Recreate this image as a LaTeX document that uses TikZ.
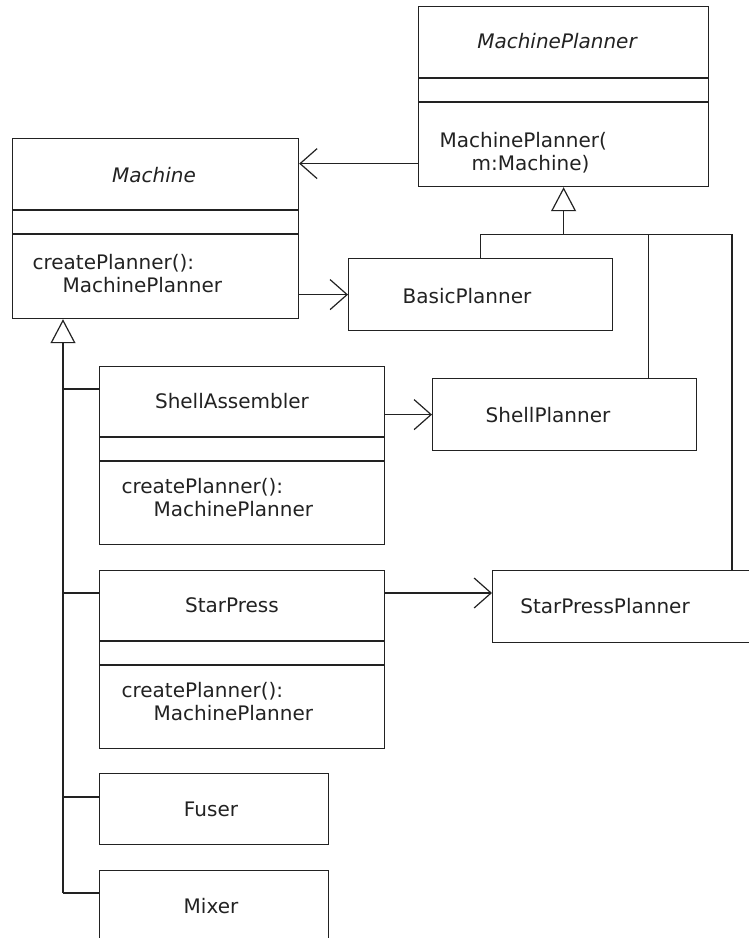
\documentclass[tikz,border=0pt]{standalone}
\usepackage{fontspec}
\setmainfont{DejaVu Sans}
\usetikzlibrary{arrows.meta}
\definecolor{ink}{HTML}{222222}
\begin{document}
\begin{tikzpicture}[x=1pt,y=-1pt,line width=1.2pt,draw=ink,
  box/.style={draw=ink,rectangle,inner sep=0pt,anchor=north west,line width=1.2pt},
  lbl/.style={text=ink,inner sep=0pt,font=\fontsize{20}{24}\selectfont},
  nm/.style={lbl,anchor=base},
  op/.style={lbl,anchor=base west},
  assoc/.style={-{Straight Barb[length=17pt,width=30pt]}},
  gen/.style={-{Triangle[open,length=24pt,width=25pt]}}]
\clip (0,0) rectangle (749,938);
% boxes
\node[box,minimum width=290pt,minimum height=180pt] (mp) at (418,6) {};
\node[box,minimum width=286pt,minimum height=180pt] (m) at (12,138) {};
\node[box,minimum width=264pt,minimum height=72pt] (bp) at (348,258) {};
\node[box,minimum width=285pt,minimum height=178pt] (sa) at (99,366) {};
\node[box,minimum width=264pt,minimum height=72pt] (sp) at (432,378) {};
\node[box,minimum width=285pt,minimum height=178pt] (st) at (99,570) {};
\node[box,minimum width=300pt,minimum height=72pt] (spp) at (492,570) {};
\node[box,minimum width=229pt,minimum height=71pt] (fu) at (99,773) {};
\node[box,minimum width=229pt,minimum height=71pt] (mx) at (99,870) {};
% compartments
\foreach \b/\a/\c in {mp/72/96, m/72/96, sa/71/95, st/71/95}{
  \draw ([yshift=-\a pt]\b.north west) -- ([yshift=-\a pt]\b.north east);
  \draw ([yshift=-\c pt]\b.north west) -- ([yshift=-\c pt]\b.north east);
}
% texts
\node[nm,font=\fontsize{20}{24}\selectfont\itshape] (tmp) at (557,48) {MachinePlanner};
\node[op] (tmp1) at (439,147) {MachinePlanner(};
\node[op] (tmp2) at (471,170) {m:Machine)};
\node[nm,font=\fontsize{20}{24}\selectfont\itshape] (tm) at (154,182) {Machine};
\node[op] (tm1) at (32,269) {createPlanner():};
\node[op] (tm2) at (62,292) {MachinePlanner};
\node[nm] (tbp) at (467,303) {BasicPlanner};
\node[nm] (tsa) at (232,408) {ShellAssembler};
\node[op] (tsa1) at (121,493) {createPlanner():};
\node[op] (tsa2) at (153,516) {MachinePlanner};
\node[nm] (tsp) at (548,422) {ShellPlanner};
\node[nm] (tst) at (232,612) {StarPress};
\node[op] (tst1) at (121,697) {createPlanner():};
\node[op] (tst2) at (153,720) {MachinePlanner};
\node[nm] (tspp) at (605,613) {StarPressPlanner};
\node[nm] (tfu) at (211,816) {Fuser};
\node[nm] (tmx) at (211,913) {Mixer};
% associations
\draw[assoc] ([yshift=-67pt]mp.west) coordinate (a1) -- (a1 -| m.east);
\draw[assoc] (bp.west -| m.east) -- (bp.west);
\draw[assoc] (sp.west -| sa.east) -- (sp.west);
\draw[assoc] ([yshift=-23pt]st.north east) -- ([yshift=-23pt]spp.north west);
% generalization to MachinePlanner
\coordinate (hbar) at ([yshift=-47pt]mp.south);
\coordinate (g1) at ([xshift=84pt]sp.north);
\coordinate (g2) at ([xshift=240pt]spp.north west);
\draw (bp.north) |- (hbar) -| (g2);
\draw (g1) -- (g1 |- hbar);
\draw[gen] (hbar) -- (mp.south);
% generalization to Machine
\coordinate (mt) at ([xshift=51pt]m.south west);
\coordinate (bsa) at ([yshift=-23pt]sa.north west);
\coordinate (bst) at ([yshift=-23pt]st.north west);
\coordinate (bfu) at ([yshift=-24pt]fu.north west);
\coordinate (bmx) at ([yshift=-23pt]mx.north west);
\draw[gen] (mt |- bmx) -- (mt);
\foreach \c in {bsa,bst,bfu,bmx}{\draw (\c) -- (\c -| mt);}
\end{tikzpicture}
\end{document}
